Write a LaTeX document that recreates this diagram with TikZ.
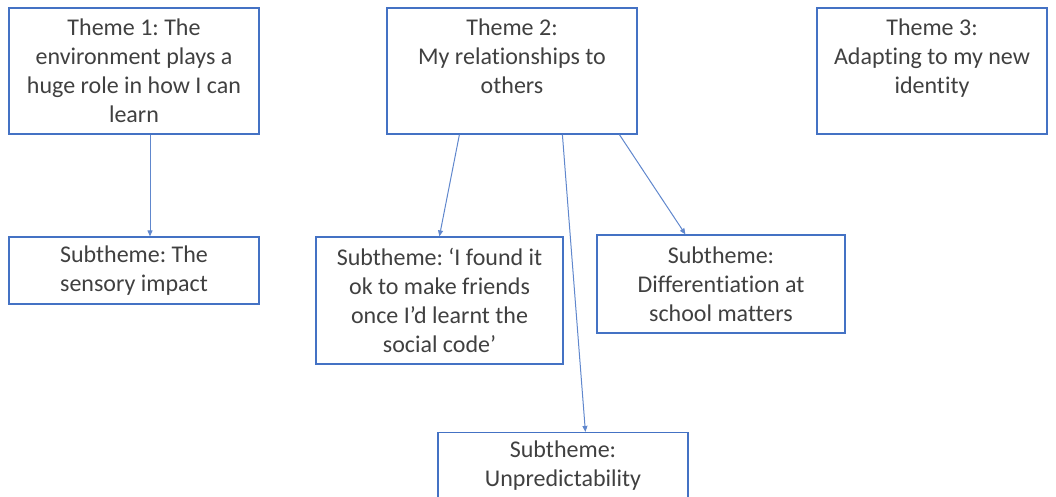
\documentclass[tikz,border=0pt]{standalone}
\usepackage{fontspec}
\setmainfont{Carlito}[RawFeature={-liga;-clig;-dlig}]
\usetikzlibrary{arrows.meta}
\definecolor{boxblue}{HTML}{4472C4}
\definecolor{txtgray}{HTML}{404040}
\frenchspacing
\begin{document}
\begin{tikzpicture}[x=1pt,y=-1pt,
  box/.style={draw=boxblue, line width=1.2pt, rectangle, inner sep=0pt, align=center,
    text=txtgray, font=\fontsize{24}{29}\selectfont},
  link/.style={draw=boxblue!85, line width=1pt, -{Triangle[length=6pt,width=5pt]}}]
\useasboundingbox (0,0) rectangle (1056,497);
\clip (0,0) rectangle (1056,497);
\node[box, minimum width=250, minimum height=126] (t1) at (134,71)
  {Theme 1: The\\environment plays a\\huge role in how I can\\learn};
\node[box, minimum width=250, minimum height=126] (t2) at (512,71)
  {Theme 2:\\My relationships to\\others\\\mbox{}};
\node[box, minimum width=230, minimum height=126] (t3) at (932,71)
  {Theme 3:\\Adapting to my new\\identity\\\mbox{}};
\node[box, minimum width=250, minimum height=67] (s1) at (134,270.5)
  {Subtheme: The\\sensory impact};
\node[box, minimum width=247, minimum height=127] (s2) at (439.5,300.5)
  {Subtheme: ‘I found it\\ok to make friends\\once I’d learnt the\\social code’};
\node[box, minimum width=248, minimum height=98] (s3) at (721,284)
  {Subtheme:\\Differentiation at\\school matters};
\node[box, minimum width=250, minimum height=67] (s4) at (563,466)
  {Subtheme:\\Unpredictability};
\draw[link] ([xshift=16]t1.south) -- ([xshift=16]s1.north);
\draw[link] ([xshift=73]t2.south west) -- ([xshift=124]s2.north west);
\draw[link] ([xshift=176]t2.south west) -- ([xshift=148]s4.north west);
\draw[link] ([xshift=233]t2.south west) -- ([xshift=89]s3.north west);
\end{tikzpicture}
\end{document}
